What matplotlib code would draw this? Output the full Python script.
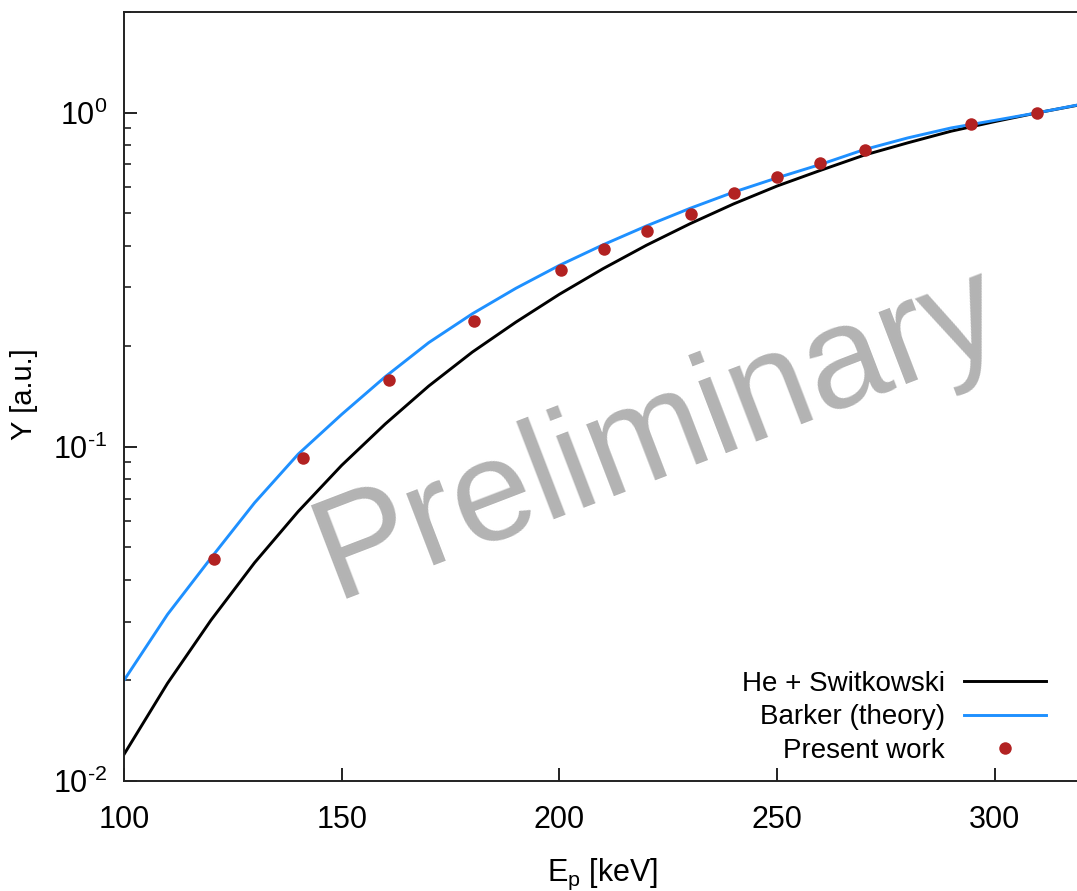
import numpy as np
import matplotlib
matplotlib.use("Agg")
import matplotlib.pyplot as plt
from matplotlib.ticker import FuncFormatter, LogLocator

plt.rcParams["font.family"] = ["Liberation Sans", "DejaVu Sans"]
plt.rcParams["mathtext.fontset"] = "custom"
plt.rcParams["mathtext.rm"] = "Liberation Sans"
plt.rcParams["mathtext.it"] = "Liberation Sans:italic"
plt.rcParams["axes.unicode_minus"] = False

# ---- data ----
energy = [100, 110, 120, 130, 140, 150, 160, 170, 180, 190, 200, 210,
          220, 230, 240, 250, 260, 270, 280, 290, 300, 310, 320]
he_switkowski = [0.0120, 0.0196, 0.0303, 0.0450, 0.0640, 0.088, 0.117,
                 0.152, 0.192, 0.236, 0.286, 0.341, 0.401, 0.465, 0.533,
                 0.603, 0.672, 0.746, 0.812, 0.880, 0.940, 1.000, 1.058]
barker = [0.0200, 0.0315, 0.0465, 0.0680, 0.0950, 0.125, 0.162, 0.205,
          0.250, 0.298, 0.349, 0.402, 0.458, 0.517, 0.578, 0.638, 0.700,
          0.775, 0.840, 0.900, 0.948, 1.000, 1.060]

work_e = [120.7, 141.1, 160.9, 180.4, 200.4, 210.3, 220.2, 230.2, 240.0,
          250.0, 259.9, 270.3, 294.5, 309.8]
work_y = [0.0461, 0.0928, 0.158, 0.238, 0.339, 0.390, 0.443, 0.496, 0.576,
          0.641, 0.706, 0.775, 0.925, 0.995]


def decade_label(v, pos):
    # 10^n with a plain hyphen, like the original
    n = int(round(np.log10(v)))
    return r"$10^{\text{%d}}$" % n


# ---- plot ----
fig = plt.figure(figsize=(10.77, 8.91), dpi=100)
ax = fig.add_axes([0.1151, 0.1235, 0.8894, 0.863])

ax.plot(energy, he_switkowski, color="black", lw=2.1, label="He + Switkowski")
ax.plot(energy, barker, color="#1e90ff", lw=2.1, label="Barker (theory)")
ax.plot(work_e, work_y, "o", color="#b22222", ms=9, mec="none",
        label="Present work")

ax.set_yscale("log")
ax.set_xlim(100, 320)
ax.set_ylim(0.01, 2)
ax.set_xticks([100, 150, 200, 250, 300])
ax.yaxis.set_major_locator(LogLocator(base=10))
ax.yaxis.set_major_formatter(FuncFormatter(decade_label))

ax.tick_params(axis="both", which="both", direction="in", labelsize=22,
               color="#222222")
ax.tick_params(axis="both", which="major", length=9.5, width=1.4)
ax.tick_params(axis="y", which="minor", length=5, width=1.2)
ax.tick_params(axis="y", which="both", pad=12)
ax.tick_params(axis="x", which="major", pad=17)
ax.spines["right"].set_visible(False)
for s in ("left", "bottom", "top"):
    ax.spines[s].set_linewidth(1.4)
    ax.spines[s].set_color("#222222")

ax.set_xlabel(r"E$_\mathrm{p}$ [keV]", fontsize=22, labelpad=16)
fig.text(24 / 1077, 1 - 394 / 891, "Y [a.u.]", rotation=90, fontsize=21,
         ha="center", va="center")

leg = ax.legend(loc="lower right", frameon=False, fontsize=20,
                markerfirst=False, handlelength=2.95, borderpad=0,
                labelspacing=0.28, handletextpad=0.7,
                bbox_to_anchor=(1060 / 1077, 1 - 778 / 891),
                bbox_transform=fig.transFigure)
for t in leg.get_texts():
    t.set_ha("right")

fig.text(672 / 1077, 1 - 470 / 891, "Preliminary", fontsize=104,
         color="#b3b3b3", rotation=21, rotation_mode="anchor",
         ha="center", va="baseline", zorder=0)

fig.savefig("out.png", dpi=100)
